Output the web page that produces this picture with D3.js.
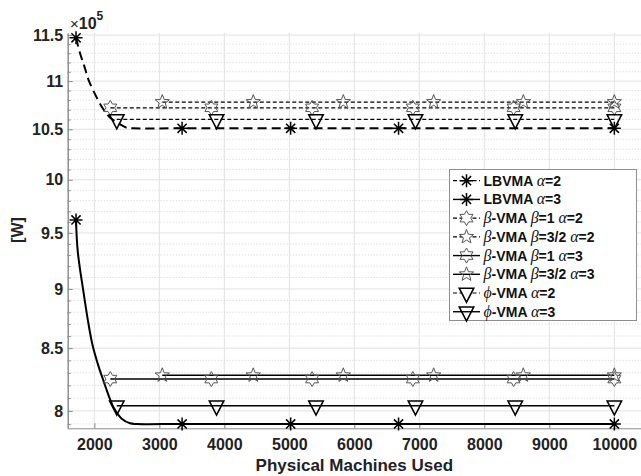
<!DOCTYPE html>
<html><head><meta charset="utf-8">
<script src="https://cdn.jsdelivr.net/npm/d3@7"></script>
<style>body{margin:0;background:#fff}svg{display:block}</style>
</head><body>
<svg id="c" width="641" height="476"></svg>
<script>
// ---- data (values in units of 1e5 W) ----
const xTicks = [2000, 3000, 4000, 5000, 6000, 7000, 8000, 9000, 10000];
const yTicks = [8, 8.5, 9, 9.5, 10, 10.5, 11, 11.5];
const yMinorTicks = [7.9, 8.1, 8.2, 8.3, 8.4, 8.6, 8.7, 8.8, 8.9, 9.1, 9.2, 9.3, 9.4, 9.6, 9.7, 9.8, 9.9,
  10.1, 10.2, 10.3, 10.4, 10.6, 10.7, 10.8, 10.9, 11.1, 11.2, 11.3, 11.4];

const lbvma2X = [1718, 1780, 1850, 1918, 2057, 2134, 2240, 2395, 2500, 2600, 3350, 5020, 6680, 8340, 10000];
const lbvma2Y = [11.47, 11.30, 11.15, 11.00, 10.80, 10.71, 10.62, 10.55, 10.515, 10.51, 10.51, 10.51, 10.51, 10.51, 10.51];
const lbvma2Marks = [0, 10, 11, 12, 14];

const lbvma3X = [1718, 1745, 1831, 1898, 1970, 2060, 2138, 2242, 2303, 2421, 2550, 2650, 3350, 5020, 6680, 8340, 10000];
const lbvma3Y = [9.62, 9.33, 8.98, 8.74, 8.53, 8.36, 8.24, 8.09, 8.02, 7.94, 7.905, 7.90, 7.90, 7.90, 7.90, 7.90, 7.90];
const lbvma3Marks = [0, 12, 13, 14, 16];

const hexX = [2245, 3800, 5350, 6900, 8450, 10000];
const pentX = [3045, 4445, 5830, 7220, 8600, 10000];
const triX = [2345, 3880, 5410, 6940, 8475, 10000];

const beta1a2Y = [10.72, 10.72, 10.72, 10.72, 10.72, 10.72];
const beta15a2Y = [10.78, 10.78, 10.78, 10.78, 10.78, 10.78];
const beta1a3Y = [8.25, 8.25, 8.25, 8.25, 8.25, 8.25];
const beta15a3Y = [8.28, 8.28, 8.28, 8.28, 8.28, 8.28];
const phi2Y = [10.60, 10.60, 10.60, 10.60, 10.60, 10.60];
const phi3Y = [8.04, 8.04, 8.04, 8.04, 8.04, 8.04];
const allMarks = [0, 1, 2, 3, 4, 5];

const legendLabels = ["LBVMA α=2", "LBVMA α=3", "β-VMA β=1 α=2", "β-VMA β=3/2 α=2",
  "β-VMA β=1 α=3", "β-VMA β=3/2 α=3", "ϕ-VMA α=2", "ϕ-VMA α=3"];

// ---- styles ----
const dashThick = "9,5", dashThin = "4,2.5";
const series = [
  {xs: lbvma2X, ys: lbvma2Y, marks: lbvma2Marks, sym: "ast", w: 2, dash: dashThick, curve: true},
  {xs: lbvma3X, ys: lbvma3Y, marks: lbvma3Marks, sym: "ast", w: 2, dash: null, curve: true},
  {xs: hexX, ys: beta1a2Y, marks: allMarks, sym: "hex", w: 1.3, dash: dashThin},
  {xs: pentX, ys: beta15a2Y, marks: allMarks, sym: "pent", w: 1.3, dash: dashThin},
  {xs: hexX, ys: beta1a3Y, marks: allMarks, sym: "hex", w: 1.4, dash: null},
  {xs: pentX, ys: beta15a3Y, marks: allMarks, sym: "pent", w: 1.4, dash: null},
  {xs: triX, ys: phi2Y, marks: allMarks, sym: "tri", w: 1.3, dash: dashThin},
  {xs: triX, ys: phi3Y, marks: allMarks, sym: "tri", w: 1.4, dash: null}
];

const svg = d3.select("#c");
const L = 67.7, R = 641, T = 33, B = 428.3;
const x = d3.scaleLinear().domain([1590, 10410]).range([L, R]);
const y = d3.scaleLog().domain([7.867, 11.523]).range([B, T]);
const axisCol = "#8a8a8a";
const font = "'Liberation Sans', Arial, Helvetica, sans-serif";

// grid
const g = svg.append("g");
g.selectAll(".ymin").data(yMinorTicks).join("line")
  .attr("x1", L).attr("x2", R).attr("y1", d => y(d)).attr("y2", d => y(d))
  .attr("stroke", "#c8c8c8").attr("stroke-width", 0.8).attr("stroke-dasharray", "1,2");
g.selectAll(".ymaj").data(yTicks).join("line")
  .attr("x1", L).attr("x2", R).attr("y1", d => y(d)).attr("y2", d => y(d))
  .attr("stroke", "#e2e2e2").attr("stroke-width", 1);
g.selectAll(".xmaj").data(xTicks).join("line")
  .attr("y1", T).attr("y2", B).attr("x1", d => x(d)).attr("x2", d => x(d))
  .attr("stroke", "#e2e2e2").attr("stroke-width", 1);

// axes
const yAx = svg.append("g").attr("transform", `translate(${L},0)`)
  .call(d3.axisLeft(y).tickValues(yTicks).tickSizeInner(-5).tickSizeOuter(0).tickPadding(4.5).tickFormat(d => String(d)));
const yAxMin = svg.append("g").attr("transform", `translate(${L},0)`)
  .call(d3.axisLeft(y).tickValues(yMinorTicks).tickSizeInner(-3).tickSizeOuter(0).tickFormat(""));
const xAx = svg.append("g").attr("transform", `translate(0,${B})`)
  .call(d3.axisBottom(x).tickValues(xTicks).tickSizeInner(-5).tickSizeOuter(0).tickPadding(10).tickFormat(d3.format("d")));
[yAx, yAxMin, xAx].forEach(a => {
  a.select(".domain").attr("stroke", axisCol);
  a.selectAll(".tick line").attr("stroke", axisCol);
  a.selectAll("text").attr("font-family", font).attr("font-weight", "bold")
    .attr("font-size", 16).attr("fill", "#222");
});

// exponent
const ex = svg.append("text").attr("x", 70).attr("y", 29).attr("font-family", font).attr("fill", "#222");
ex.append("tspan").attr("font-size", 15).text("×");
ex.append("tspan").attr("font-size", 16).attr("font-weight", "bold").text("10");
ex.append("tspan").attr("font-size", 12).attr("font-weight", "bold").attr("dy", -9).text("5");

// axis labels
svg.append("text").attr("x", (L + R) / 2).attr("y", 471).attr("text-anchor", "middle")
  .attr("font-family", font).attr("font-weight", "bold").attr("font-size", 17).attr("fill", "#222")
  .text("Physical Machines Used");
svg.append("text").attr("transform", "translate(23,230) rotate(-90)").attr("text-anchor", "middle")
  .attr("font-family", font).attr("font-weight", "bold").attr("font-size", 16).attr("fill", "#222")
  .text("[W]");

// symbols
function starPath(n, ro, ri) {
  const p = d3.path();
  for (let i = 0; i < 2 * n; i++) {
    const r = i % 2 === 0 ? ro : ri;
    const a = -Math.PI / 2 + i * Math.PI / n;
    const px = r * Math.cos(a), py = r * Math.sin(a);
    if (i === 0) p.moveTo(px, py); else p.lineTo(px, py);
  }
  p.closePath();
  return p.toString();
}
const symDefs = {
  ast: {d: "M-6.5,0L6.5,0M0,-6.5L0,6.5M-4.6,-4.6L4.6,4.6M-4.6,4.6L4.6,-4.6", stroke: "#000", w: 1.5},
  hex: {d: starPath(6, 7.5, 4.33), stroke: "#555", w: 1},
  pent: {d: starPath(5, 7.5, 3.2), stroke: "#555", w: 1},
  tri: {d: "M-7.2,-4.7L7.2,-4.7L0,9.3Z", stroke: "#000", w: 1.6}
};

// plot lines
const plot = svg.append("g");
series.forEach(s => {
  const pts = s.xs.map((v, i) => [v, s.ys[i]]);
  const line = d3.line().x(d => x(d[0])).y(d => y(d[1]))
    .curve(s.curve ? d3.curveCatmullRom.alpha(0.5) : d3.curveLinear);
  plot.append("path").attr("d", line(pts)).attr("fill", "none")
    .attr("stroke", "#000").attr("stroke-width", s.w)
    .attr("stroke-dasharray", s.dash);
});
series.forEach(s => {
  const sd = symDefs[s.sym];
  plot.selectAll(null).data(s.marks.map(i => [s.xs[i], s.ys[i]])).join("path")
    .attr("transform", d => `translate(${x(d[0])},${y(d[1])})`)
    .attr("d", sd.d).attr("fill", "none").attr("stroke", sd.stroke).attr("stroke-width", sd.w);
});

// legend
const lg = svg.append("g");
lg.append("rect").attr("x", 449.5).attr("y", 169.5).attr("width", 187).attr("height", 151)
  .attr("fill", "#fff").attr("stroke", "#8f8f8f").attr("stroke-width", 1);
series.forEach((s, i) => {
  const cy = 180.7 + i * 18.72;
  lg.append("line").attr("x1", 453).attr("x2", 480).attr("y1", cy).attr("y2", cy)
    .attr("stroke", "#000").attr("stroke-width", s.dash ? 1.2 : 1.4)
    .attr("stroke-dasharray", s.dash ? dashThin : null);
  const sd = symDefs[s.sym];
  lg.append("path").attr("transform", `translate(466.5,${cy})`).attr("d", sd.d)
    .attr("fill", s.dash ? "#fff" : "none").attr("stroke", sd.stroke).attr("stroke-width", sd.w);
  const t = lg.append("text").attr("x", 483.5).attr("y", cy + 5).attr("font-family", font)
    .attr("font-size", 14).attr("font-weight", "bold").attr("fill", "#111");
  legendLabels[i].split(/([αβϕ])/).filter(p => p.length).forEach(p => {
    if (/[αβϕ]/.test(p)) {
      t.append("tspan").attr("font-family", "'Liberation Serif','DejaVu Serif',serif")
        .attr("font-style", "italic").attr("font-weight", "normal").attr("font-size", 16).text(p);
    } else {
      t.append("tspan").text(p);
    }
  });
});
</script>
</body></html>
